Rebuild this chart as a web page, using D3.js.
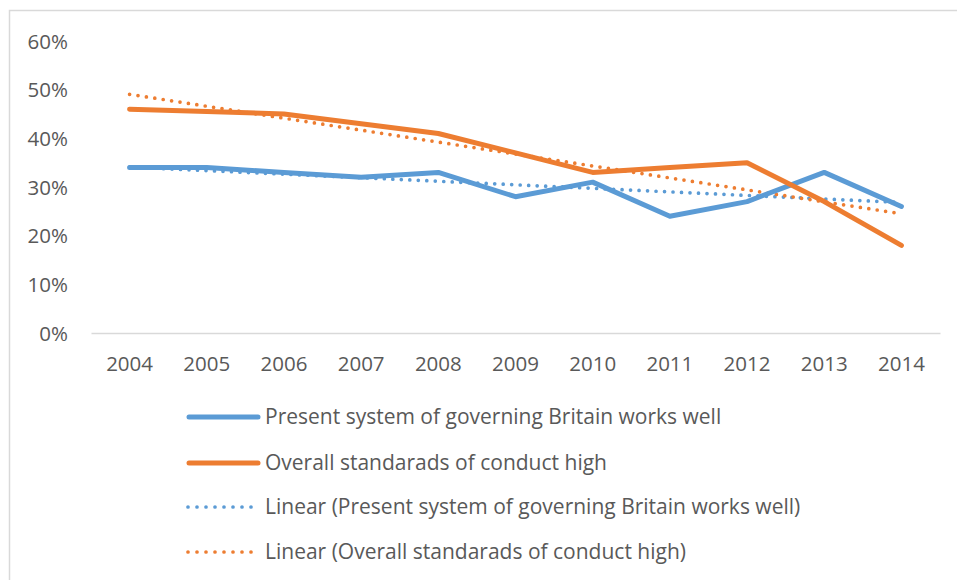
<!DOCTYPE html>
<html>
<head>
<meta charset="utf-8">
<script src="https://cdn.jsdelivr.net/npm/d3@7"></script>
<style>
  html, body { margin: 0; padding: 0; background: #fff; }
  svg { display: block; }
  text { font-family: "Open Sans", sans-serif; fill: #595959; }
</style>
</head>
<body>
<svg id="chart" width="957" height="580"></svg>
<script>
// ---- Data ----
const years = ["2004","2005","2006","2007","2008","2009","2010","2011","2012","2013","2014"];
const systemWorksWell = [0.34,0.34,0.33,0.32,0.33,0.28,0.31,0.24,0.27,0.33,0.26];
const standardsHigh   = [0.46,0.455,0.45,0.43,0.41,0.37,0.33,0.34,0.35,0.27,0.18];
const yTicks = [0,0.1,0.2,0.3,0.4,0.5,0.6];
const seriesNames = [
  "Present system of governing Britain works well",
  "Overall standarads of conduct high",
  "Linear (Present system of governing Britain works well)",
  "Linear (Overall standarads of conduct high)"
];
const colors = ["#5B9BD5", "#ED7D31"];

// ---- Layout ----
const svg = d3.select("#chart");
const plot = { left: 91, right: 940, top: 41, bottom: 333 };

// chart frame
svg.append("rect")
  .attr("x", 9.5).attr("y", 10.5)
  .attr("width", 960).attr("height", 590)
  .attr("fill", "none").attr("stroke", "#D9D9D9").attr("stroke-width", 1.5);

const x = d3.scaleBand().domain(years).range([plot.left, plot.right]);
const xc = d => x(d) + x.bandwidth() / 2;
const y = d3.scaleLinear().domain([0, 0.6]).range([plot.bottom, plot.top]);

// y axis labels
const yAxis = d3.axisLeft(y).tickValues(yTicks).tickFormat(d3.format(".0%")).tickSize(0).tickPadding(0);
const gy = svg.append("g").attr("transform", "translate(68,0)").call(yAxis);
gy.select(".domain").remove();
gy.selectAll("text").attr("font-size", 20.5).attr("font-family", "Open Sans").attr("fill", "#595959").attr("dy", "0.35em");

// x axis
const xAxis = d3.axisBottom(x).tickSize(0).tickPadding(0);
const gx = svg.append("g").attr("transform", `translate(0,${plot.bottom})`).call(xAxis);
gx.select(".domain").attr("stroke", "#D9D9D9").attr("stroke-width", 1.5);
gx.selectAll("text").attr("font-size", 20.5).attr("font-family", "Open Sans").attr("fill", "#595959").attr("dy", "38").attr("y", 0);

// linear regression (Excel trendline)
function trend(vals) {
  const xs = vals.map((_, i) => i);
  const mx = d3.mean(xs), my = d3.mean(vals);
  const slope = d3.sum(xs.map((xi, i) => (xi - mx) * (vals[i] - my))) / d3.sum(xs.map(xi => (xi - mx) ** 2));
  const b = my - slope * mx;
  return xs.map(xi => b + slope * xi);
}

const line = d3.line().x((d, i) => xc(years[i])).y(d => y(d));

const allSeries = [systemWorksWell, standardsHigh];

// trendlines
allSeries.forEach((s, k) => {
  svg.append("path")
    .datum(trend(s))
    .attr("d", line)
    .attr("fill", "none")
    .attr("stroke", colors[k])
    .attr("stroke-width", 3.7)
    .attr("stroke-linecap", "round")
    .attr("stroke-dasharray", "0 8.5");
});

// main lines
allSeries.forEach((s, k) => {
  svg.append("path")
    .datum(s)
    .attr("d", line)
    .attr("fill", "none")
    .attr("stroke", colors[k])
    .attr("stroke-width", 5)
    .attr("stroke-linecap", "round")
    .attr("stroke-linejoin", "round");
});

// legend
const legendRows = [417, 463, 507, 552];
const lg = svg.append("g");
seriesNames.forEach((name, i) => {
  const ry = legendRows[i];
  const col = colors[i % 2];
  const dotted = i >= 2;
  lg.append("line")
    .attr("x1", dotted ? 188 : 189).attr("x2", dotted ? 252 : 258)
    .attr("y1", ry).attr("y2", ry)
    .attr("stroke", col)
    .attr("stroke-width", dotted ? 3.7 : 5)
    .attr("stroke-linecap", "round")
    .attr("stroke-dasharray", dotted ? "0 9" : null);
  lg.append("text")
    .attr("x", 265).attr("y", ry)
    .attr("dy", "0.35em")
    .attr("font-size", 21)
    .text(name);
});
</script>
</body>
</html>
